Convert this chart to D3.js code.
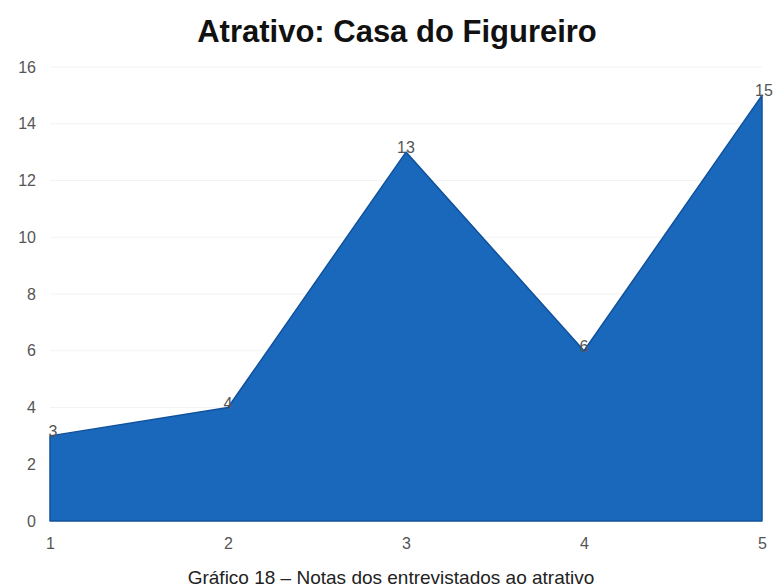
<!DOCTYPE html>
<html>
<head>
<meta charset="utf-8">
<script src="https://cdn.jsdelivr.net/npm/d3@7"></script>
<style>
  html, body { margin: 0; padding: 0; background: #fff; }
  svg { display: block; font-family: "Liberation Sans", Arial, sans-serif; }
</style>
</head>
<body>
<svg id="chart" width="773" height="588"></svg>
<script>
// Notas (1 a 5) e número de entrevistados por nota
const notas = [1, 2, 3, 4, 5];
const entrevistados = [3, 4, 13, 6, 15];
const yTicks = [0, 2, 4, 6, 8, 10, 12, 14, 16];

const title = "Atrativo: Casa do Figureiro";
const caption = "Gráfico 18 – Notas dos entrevistados ao atrativo";

const svg = d3.select("#chart");
const W = 773, H = 588;
const margin = { left: 50, right: 11, top: 67, bottom: 67 };

const x = d3.scaleLinear()
  .domain([1, 5])
  .range([margin.left, W - margin.right]);

const y = d3.scaleLinear()
  .domain([0, 16])
  .range([H - margin.bottom, margin.top]);

// faint horizontal gridlines
svg.append("g")
  .selectAll("line")
  .data(yTicks.slice(1))
  .join("line")
  .attr("x1", margin.left)
  .attr("x2", W - margin.right)
  .attr("y1", d => y(d))
  .attr("y2", d => y(d))
  .attr("stroke", "#f3f3f3")
  .attr("stroke-width", 1);

// y axis labels
const yAxis = d3.axisLeft(y).tickValues(yTicks).tickSize(0).tickPadding(14);
svg.append("g")
  .attr("transform", `translate(${margin.left},0)`)
  .call(yAxis)
  .call(g => g.select(".domain").remove())
  .call(g => g.selectAll("text")
    .attr("fill", "#555")
    .attr("font-size", 16)
    .attr("font-family", "'Liberation Sans', Arial, sans-serif"));

// x axis labels
const xAxis = d3.axisBottom(x).tickValues(notas).tickFormat(d3.format("d")).tickSize(0).tickPadding(17);
svg.append("g")
  .attr("transform", `translate(0,${y(0)})`)
  .call(xAxis)
  .call(g => g.select(".domain").remove())
  .call(g => g.selectAll("text")
    .attr("fill", "#555")
    .attr("font-size", 16)
    .attr("font-family", "'Liberation Sans', Arial, sans-serif"));

// area
const data = notas.map((n, i) => ({ n, v: entrevistados[i] }));
const area = d3.area()
  .x(d => x(d.n))
  .y0(y(0))
  .y1(d => y(d.v));

svg.append("path")
  .datum(data)
  .attr("d", area)
  .attr("fill", "#1a68bc")
  .attr("stroke", "#10519c")
  .attr("stroke-width", 1.5)
  .attr("stroke-linejoin", "round");

// value labels
svg.append("g")
  .selectAll("text")
  .data(data)
  .join("text")
  .attr("x", d => x(d.n) + (d.n === 1 ? 3 : d.n === 5 ? 2 : 0))
  .attr("y", d => y(d.v) + 1)
  .attr("text-anchor", "middle")
  .attr("fill", "#555")
  .attr("font-size", 16)
  .text(d => d.v);

// title
svg.append("text")
  .attr("x", 397)
  .attr("y", 42)
  .attr("text-anchor", "middle")
  .attr("font-size", 31)
  .attr("font-weight", "bold")
  .attr("fill", "#111")
  .text(title);

// caption
svg.append("text")
  .attr("x", 391)
  .attr("y", 584)
  .attr("text-anchor", "middle")
  .attr("font-size", 19)
  .attr("fill", "#222")
  .text(caption);
</script>
</body>
</html>
